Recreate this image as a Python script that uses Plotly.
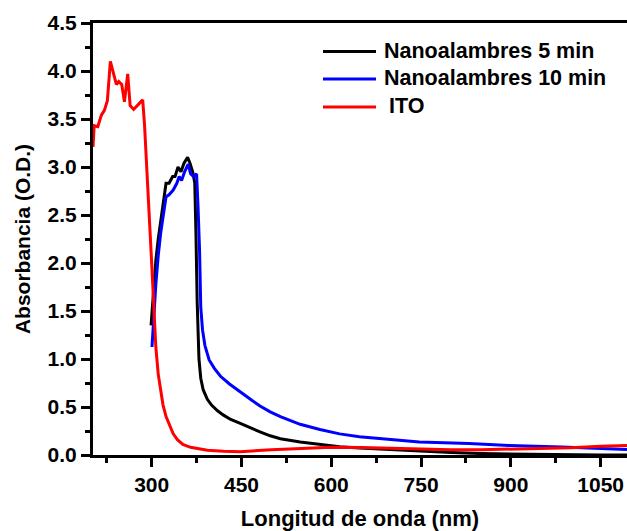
import plotly.graph_objects as go

# ---- data ----
wl_5min = [299, 303, 307, 311, 315, 320, 324, 329, 335, 339, 344, 349, 354, 360, 364, 369, 372,
           374, 376, 379, 382, 386, 393, 400, 410, 420, 432, 448, 465, 481, 498, 515, 548, 581,
           614, 647, 697, 747, 800, 850, 900, 950, 1000, 1050, 1094]
abs_5min = [1.35, 1.75, 2.03, 2.25, 2.44, 2.65, 2.83, 2.83, 2.90, 2.90, 3.00, 2.95, 3.04, 3.10, 3.04,
            2.94, 2.83, 2.30, 1.60, 1.00, 0.80, 0.68, 0.58, 0.52, 0.46, 0.415, 0.37, 0.33, 0.28,
            0.24, 0.20, 0.17, 0.135, 0.108, 0.085, 0.072, 0.056, 0.037, 0.025, 0.015, 0.01, 0.005,
            0.0, 0.0, 0.0]

wl_10min = [300.5, 304, 307, 311, 315, 320, 324, 329, 336, 342, 346, 350, 355, 361, 365, 370, 375,
            377.5, 380, 382, 385, 389, 396, 405, 415, 430, 448, 465, 481, 498, 515, 548, 581, 614,
            647, 697, 747, 830, 897, 985, 1041, 1094]
abs_10min = [1.125, 1.50, 1.78, 2.08, 2.31, 2.52, 2.69, 2.71, 2.76, 2.83, 2.90, 2.86, 2.95, 3.03,
             2.93, 2.90, 2.93, 2.58, 2.13, 1.54, 1.30, 1.14, 0.99, 0.90, 0.82, 0.74, 0.655, 0.58,
             0.51, 0.45, 0.40, 0.32, 0.265, 0.22, 0.19, 0.16, 0.135, 0.12, 0.10, 0.083, 0.073,
             0.056]

wl_ito = [202, 204, 210, 216, 221, 226, 231, 235, 241, 245, 250, 254.5, 260, 264, 270, 279, 285,
          288, 291, 294, 297, 300, 303, 307, 311, 315, 319, 324, 330, 336, 343, 352, 365, 380, 393,
          420, 448, 500, 550, 600, 650, 700, 750, 800, 850, 900, 950, 1000, 1050, 1094]
abs_ito = [3.21, 3.43, 3.42, 3.54, 3.59, 3.69, 4.10, 3.99, 3.86, 3.89, 3.86, 3.68, 3.97, 3.64, 3.60,
           3.66, 3.70, 3.45, 3.12, 2.75, 2.40, 2.00, 1.62, 1.12, 0.84, 0.66, 0.52, 0.40, 0.30, 0.22,
           0.16, 0.11, 0.08, 0.06, 0.05, 0.04, 0.035, 0.055, 0.07, 0.08, 0.078, 0.07, 0.06, 0.055,
           0.055, 0.06, 0.065, 0.075, 0.09, 0.10]

series_names = ["Nanoalambres 5 min", "Nanoalambres 10 min", "ITO"]
series_colors = ["#000000", "#0000ff", "#ff0000"]

x_tick_vals = [300, 450, 600, 750, 900, 1050]
y_tick_vals = [0.0, 0.5, 1.0, 1.5, 2.0, 2.5, 3.0, 3.5, 4.0, 4.5]
y_tick_text = ["0.0", "0.5", "1.0", "1.5", "2.0", "2.5", "3.0", "3.5", "4.0", "4.5"]

FONT = "Liberation Sans, Arial, sans-serif"

fig = go.Figure()
for xs, ys, nm, col in zip([wl_5min, wl_10min, wl_ito], [abs_5min, abs_10min, abs_ito],
                           series_names, series_colors):
    fig.add_trace(go.Scatter(x=xs, y=ys, mode="lines", name=nm,
                             line=dict(color=col, width=3), showlegend=False))

# legend drawn by hand (longer line samples like the reference)
W, H = 627, 531
L, R, T, B = 93, 0, 23, 76
pw, ph = W - L - R, H - T - B
def px(x):
    return (x - L) / pw
def py(y):
    return (H - B - y) / ph

leg_rows = [51.5, 79, 107]
leg_text_x = [382, 382, 387]
for i, (nm, col) in enumerate(zip(series_names, series_colors)):
    yy = py(leg_rows[i])
    fig.add_shape(type="line", xref="paper", yref="paper", x0=px(323), x1=px(376),
                  y0=yy, y1=yy, line=dict(color=col, width=3))
    fig.add_annotation(xref="paper", yref="paper", x=px(leg_text_x[i]), y=py(leg_rows[i] - 1),
                       xanchor="left", yanchor="middle", text=nm, showarrow=False,
                       font=dict(family=FONT, size=21.5, color="black", weight="bold"))

fig.update_layout(
    width=W, height=H,
    margin=dict(l=L, r=R, t=T, b=B),
    paper_bgcolor="white", plot_bgcolor="white",
    font=dict(family=FONT, color="black", weight="bold"),
    showlegend=False,
)
fig.update_xaxes(
    range=[202, 1094], showgrid=False, zeroline=False,
    showline=True, linecolor="black", linewidth=3, mirror=True,
    ticks="outside", ticklen=9, tickwidth=2.5, tickcolor="black",
    tickvals=x_tick_vals,
    tickfont=dict(family=FONT, size=21, color="black", weight="bold"),
    minor=dict(ticks="outside", ticklen=5, tickwidth=2.5, tickcolor="black", dtick=75, tick0=225),
    title=dict(text="Longitud de onda (nm)", standoff=17,
               font=dict(family=FONT, size=22, color="black", weight="bold")),
)
fig.update_yaxes(
    range=[0, 4.5], showgrid=False, zeroline=False,
    showline=True, linecolor="black", linewidth=3, mirror=False,
    ticks="outside", ticklen=9, tickwidth=2.5, tickcolor="black",
    tickvals=y_tick_vals, ticktext=y_tick_text,
    tickfont=dict(family=FONT, size=21, color="black", weight="bold"),
    minor=dict(ticks="outside", ticklen=5, tickwidth=2.5, tickcolor="black", dtick=0.25, tick0=0.25),
    title=dict(text="Absorbancia (O.D.)", standoff=12,
               font=dict(family=FONT, size=21, color="black", weight="bold")),
)

fig.write_html("out.html")
